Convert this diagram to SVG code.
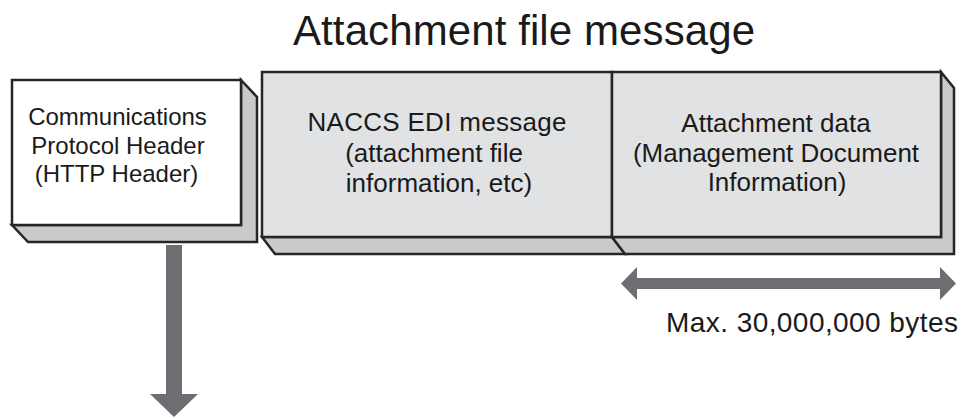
<svg xmlns="http://www.w3.org/2000/svg" width="964" height="418" viewBox="0 0 964 418">
<style>
.t{font-family:"Liberation Sans",Arial,sans-serif;fill:#1a1a1a;text-anchor:middle}
.edge{stroke:#262626;stroke-width:2.5;stroke-linejoin:miter}
.side{fill:#c9cacc}
.arrow{fill:#6d6e71}
</style>
<rect width="964" height="418" fill="#ffffff"/>
<text class="t" x="524" y="45" font-size="42" textLength="462" lengthAdjust="spacing">Attachment file message</text>
<g id="header">
<polygon class="side edge" points="241,80 257,97 257,242 28,242 12,225 241,225"/>
<rect class="edge" x="12" y="80" width="229" height="145" fill="#ffffff"/>
<text class="t" x="117.5" y="125" font-size="24">Communications</text>
<text class="t" x="118" y="153.5" font-size="24">Protocol Header</text>
<text class="t" x="116.5" y="182" font-size="24">(HTTP Header)</text>
</g>
<g id="edi">
<polygon class="side edge" points="262,237 275,254 625,254 612,237"/>
<rect class="edge" x="262" y="72" width="350" height="165" fill="#e1e2e4"/>
<text class="t" x="437" y="131" font-size="26" textLength="259" lengthAdjust="spacing">NACCS EDI message</text>
<text class="t" x="434" y="161.5" font-size="26">(attachment file</text>
<text class="t" x="439" y="191.5" font-size="26">information, etc)</text>
</g>
<g id="attachment">
<polygon class="side edge" points="941,72 954,88 954,254 625,254 612,237 941,237"/>
<rect class="edge" x="612" y="72" width="329" height="165" fill="#e1e2e4"/>
<text class="t" x="776" y="131.5" font-size="26">Attachment data</text>
<text class="t" x="776" y="161.5" font-size="26">(Management Document</text>
<text class="t" x="777" y="191" font-size="26">Information)</text>
</g>
<g id="connectors">
<polygon class="arrow" points="166,245 182,245 182,394 198,394 174,417 150,394 166,394"/>
<polygon class="arrow" points="621,283.5 637,267 637,278 940,278 940,267 956,283.5 940,300 940,289 637,289 637,300"/>
</g>
<text class="t" x="812" y="332" font-size="28" textLength="292" lengthAdjust="spacing">Max. 30,000,000 bytes</text>
</svg>
